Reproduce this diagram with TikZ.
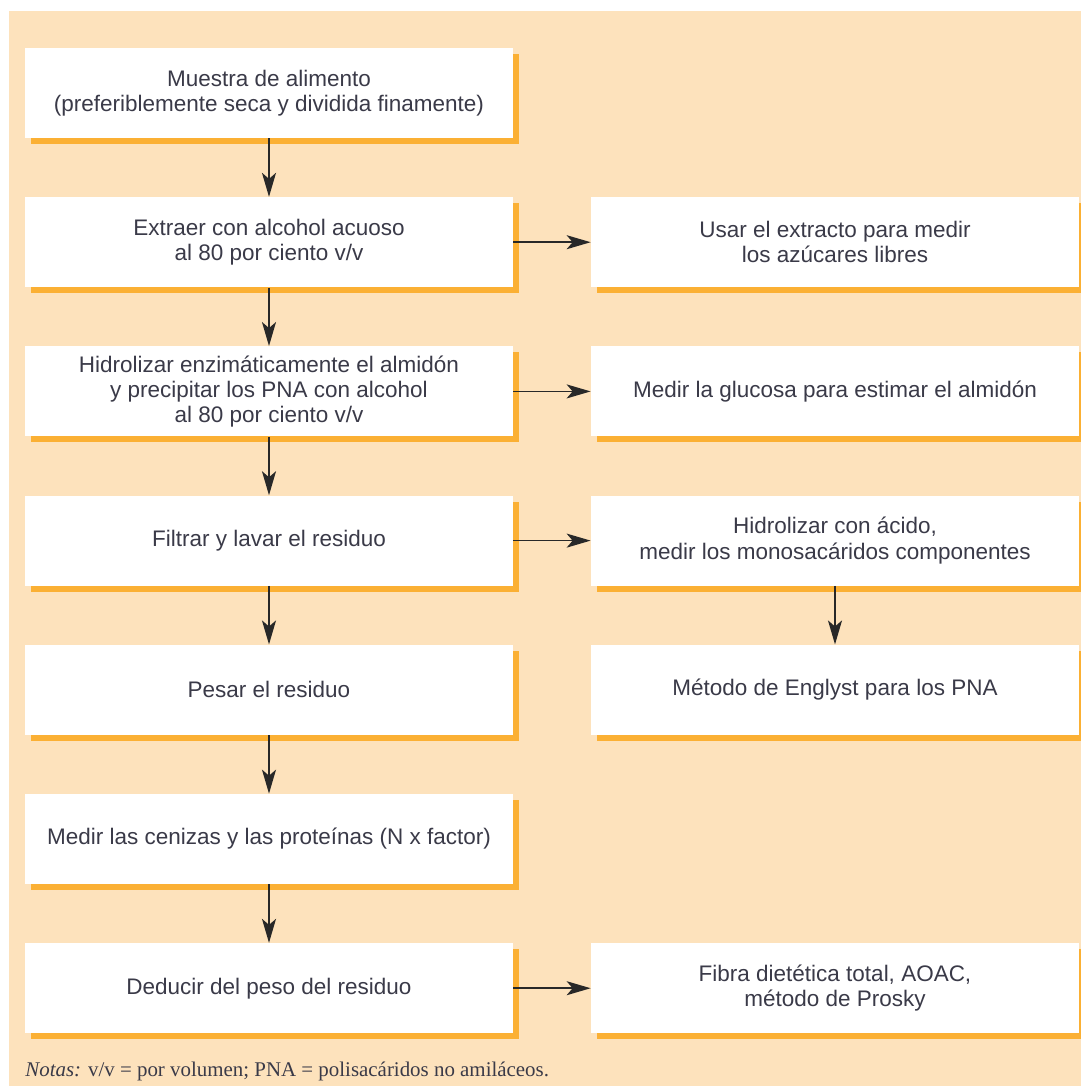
\documentclass[tikz,border=0pt]{standalone}
\usepackage{fontspec}
\setmainfont{Liberation Sans}
\newfontfamily\notasfont{Liberation Serif}
\usetikzlibrary{positioning, shadows, arrows.meta}
\definecolor{fondo}{RGB}{253,226,188}
\definecolor{sombra}{RGB}{251,176,52}
\definecolor{texto}{RGB}{58,58,72}
\definecolor{flecha}{RGB}{40,40,40}

\begin{document}
\begin{tikzpicture}[x=0.2mm, y=-0.2mm, node distance={29.84mm},
    main/.style = {fill=white, minimum width=97.6mm, minimum height=18mm, align=center, text=texto,
                   font=\fontsize{12.8}{14.4}\selectfont,
                   drop shadow={shadow xshift=1.2mm, shadow yshift=-1.2mm, fill=sombra, opacity=1}},
    flow/.style = {draw=flecha, line width=1pt, -{Stealth[length=4.8mm, width=2.8mm, inset=1.2mm]}}]
            \useasboundingbox (0,0) rectangle (1081,1086);
            \fill[fondo] (9,11) rectangle (1081,1086);
            % left column
            \node[main] (1) at (269,93)  {Muestra de alimento\\(preferiblemente seca y dividida finamente)};
            \node[main] (2) [below of=1] {Extraer con alcohol acuoso\\al 80 por ciento v/v};
            \node[main] (3) [below of=2] {Hidrolizar enzimáticamente el almidón\\y precipitar los PNA con alcohol\\al 80 por ciento v/v};
            \node[main] (4) [below of=3] {Filtrar y lavar el residuo};
            \node[main] (5) [below of=4] {Pesar el residuo};
            \node[main] (6) [below of=5] {Medir las cenizas y las proteínas (N x factor)};
            \node[main] (7) [below of=6] {Deducir del peso del residuo};
            % right column
            \node[main] (8)  [right of=2, node distance=113.2mm] {Usar el extracto para medir\\los azúcares libres};
            \node[main] (9)  [right of=3, node distance=113.2mm] {Medir la glucosa para estimar el almidón};
            \node[main] (10) [right of=4, node distance=113.2mm] {Hidrolizar con ácido,\\medir los monosacáridos componentes};
            \node[main] (11) [right of=5, node distance=113.2mm] {Método de Englyst para los PNA};
            \node[main] (12) [right of=7, node distance=113.2mm] {Fibra dietética total, AOAC,\\método de Prosky};
            \draw[flow] (1) -- (2);
            \draw[flow] (2) -- (3);
            \draw[flow] (3) -- (4);
            \draw[flow] (4) -- (5);
            \draw[flow] (5) -- (6);
            \draw[flow] (6) -- (7);
            \draw[flow] (2) -- (8);
            \draw[flow] (3) -- (9);
            \draw[flow] (4) -- (10);
            \draw[flow] (10) -- (11);
            \draw[flow] (7) -- (12);
            \node[anchor=base west, inner sep=0pt, text=texto, font=\notasfont\fontsize{11.9}{14}\selectfont] (notas) at (25,1076)
                {\textit{Notas:} v/v = por volumen; PNA = polisacáridos no amiláceos.};
        \end{tikzpicture}
\end{document}
